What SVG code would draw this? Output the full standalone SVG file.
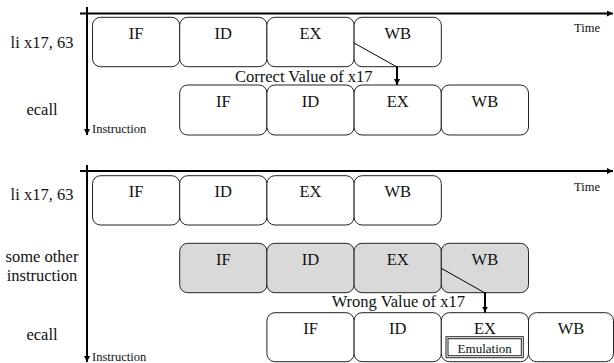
<svg xmlns="http://www.w3.org/2000/svg" width="614" height="363" viewBox="0 0 614 363">
<style>
text{font-family:'Liberation Serif','DejaVu Serif','Times New Roman',serif;fill:#111}
.st{fill:#fff;stroke:#222;stroke-width:1}
.gr{fill:#d9d9d9;stroke:#222;stroke-width:1}
.lb{font-size:16.5px;text-anchor:middle}
.big{font-size:16.5px}
.sm{font-size:12.5px}
.ax{stroke:#000;stroke-width:2;fill:none}
.cn{stroke:#000;stroke-width:1;fill:none}
.cv{stroke:#000;stroke-width:2;fill:none}
</style>
<defs>
<marker id="ah" markerUnits="userSpaceOnUse" markerWidth="8" markerHeight="8" refX="6" refY="3" orient="auto">
<path d="M0,0 L6,3 L0,6 Z" fill="#000"/>
</marker>
</defs>
<g id="axes">
<line class="ax" x1="80" y1="13.5" x2="613" y2="13.5" marker-end="url(#ah)"/>
<line class="ax" x1="87" y1="7" x2="87" y2="135" marker-end="url(#ah)"/>
<line class="ax" x1="80" y1="171" x2="613" y2="171" marker-end="url(#ah)"/>
<line class="ax" x1="87" y1="165" x2="87" y2="362" marker-end="url(#ah)"/>
<text class="sm" x="574" y="32">Time</text>
<text class="sm" x="92" y="133">Instruction</text>
<text class="sm" x="574" y="191">Time</text>
<text class="sm" x="92" y="361">Instruction</text>
</g>
<g id="labels">
<text class="lb" x="42" y="48">li x17, 63</text>
<text class="lb" x="42" y="115">ecall</text>
<text class="lb" x="42" y="200">li x17, 63</text>
<text class="lb" x="42" y="262">some other</text>
<text class="lb" x="42" y="281">instruction</text>
<text class="lb" x="42" y="340">ecall</text>
</g>
<g id="top-li">
<g id="t1-if"><rect class="st" x="92.5" y="17.3" width="87.2" height="49.4" rx="8"/><text class="lb" x="136.1" y="38.5">IF</text></g>
<g id="t1-id"><rect class="st" x="179.7" y="17.3" width="87.2" height="49.4" rx="8"/><text class="lb" x="223.3" y="38.5">ID</text></g>
<g id="t1-ex"><rect class="st" x="266.9" y="17.3" width="87.2" height="49.4" rx="8"/><text class="lb" x="310.5" y="38.5">EX</text></g>
<g id="t1-wb"><rect class="st" x="354.1" y="17.3" width="87.2" height="49.4" rx="8"/><text class="lb" x="397.7" y="38.5">WB</text></g>
</g>
<g id="top-ecall">
<g id="t2-if"><rect class="st" x="179.7" y="85" width="87.2" height="50" rx="8"/><text class="lb" x="223.3" y="106.5">IF</text></g>
<g id="t2-id"><rect class="st" x="266.9" y="85" width="87.2" height="50" rx="8"/><text class="lb" x="310.5" y="106.5">ID</text></g>
<g id="t2-ex"><rect class="st" x="354.1" y="85" width="87.2" height="50" rx="8"/><text class="lb" x="397.7" y="106.5">EX</text></g>
<g id="t2-wb"><rect class="st" x="441.3" y="85" width="87.2" height="50" rx="8"/><text class="lb" x="484.9" y="106.5">WB</text></g>
</g>
<g id="bot-li">
<g id="b1-if"><rect class="st" x="92.5" y="175.7" width="87.2" height="49.3" rx="8"/><text class="lb" x="136.1" y="197">IF</text></g>
<g id="b1-id"><rect class="st" x="179.7" y="175.7" width="87.2" height="49.3" rx="8"/><text class="lb" x="223.3" y="197">ID</text></g>
<g id="b1-ex"><rect class="st" x="266.9" y="175.7" width="87.2" height="49.3" rx="8"/><text class="lb" x="310.5" y="197">EX</text></g>
<g id="b1-wb"><rect class="st" x="354.1" y="175.7" width="87.2" height="49.3" rx="8"/><text class="lb" x="397.7" y="197">WB</text></g>
</g>
<g id="bot-other">
<g id="b2-if"><rect class="gr" x="179.7" y="243.3" width="87.2" height="49.4" rx="8"/><text class="lb" x="223.3" y="264.5">IF</text></g>
<g id="b2-id"><rect class="gr" x="266.9" y="243.3" width="87.2" height="49.4" rx="8"/><text class="lb" x="310.5" y="264.5">ID</text></g>
<g id="b2-ex"><rect class="gr" x="354.1" y="243.3" width="87.2" height="49.4" rx="8"/><text class="lb" x="397.7" y="264.5">EX</text></g>
<g id="b2-wb"><rect class="gr" x="441.3" y="243.3" width="87.2" height="49.4" rx="8"/><text class="lb" x="484.9" y="264.5">WB</text></g>
</g>
<g id="bot-ecall">
<g id="b3-if"><rect class="st" x="266.9" y="312.7" width="87.2" height="49" rx="8"/><text class="lb" x="310.5" y="333.5">IF</text></g>
<g id="b3-id"><rect class="st" x="354.1" y="312.7" width="87.2" height="49" rx="8"/><text class="lb" x="397.7" y="333.5">ID</text></g>
<g id="b3-ex"><rect class="st" x="441.3" y="312.7" width="87.2" height="49" rx="8"/><text class="lb" x="484.9" y="333.5">EX</text>
<rect x="446" y="336.7" width="77.3" height="21" fill="#fff" stroke="#222" stroke-width="1"/>
<rect x="448" y="338.7" width="73.3" height="17" fill="none" stroke="#222" stroke-width="1"/>
<text class="sm" x="484.7" y="352.5" text-anchor="middle" style="font-size:13px">Emulation</text></g>
<g id="b3-wb"><rect class="st" x="528.5" y="312.7" width="85" height="49" rx="8"/><text class="lb" x="571" y="333.5">WB</text></g>
</g>
<g id="connectors">
<polyline class="cn" points="354.1,43 397,67"/>
<line class="cv" x1="397" y1="66" x2="397" y2="85" marker-end="url(#ah)"/>
<text class="big" x="235" y="81.5">Correct Value of x17</text>
<polyline class="cn" points="441.3,268.3 485,293"/>
<line class="cv" x1="485" y1="292" x2="485" y2="312.5" marker-end="url(#ah)"/>
<text class="big" x="331.7" y="306.5">Wrong Value of x17</text>
</g>
</svg>
